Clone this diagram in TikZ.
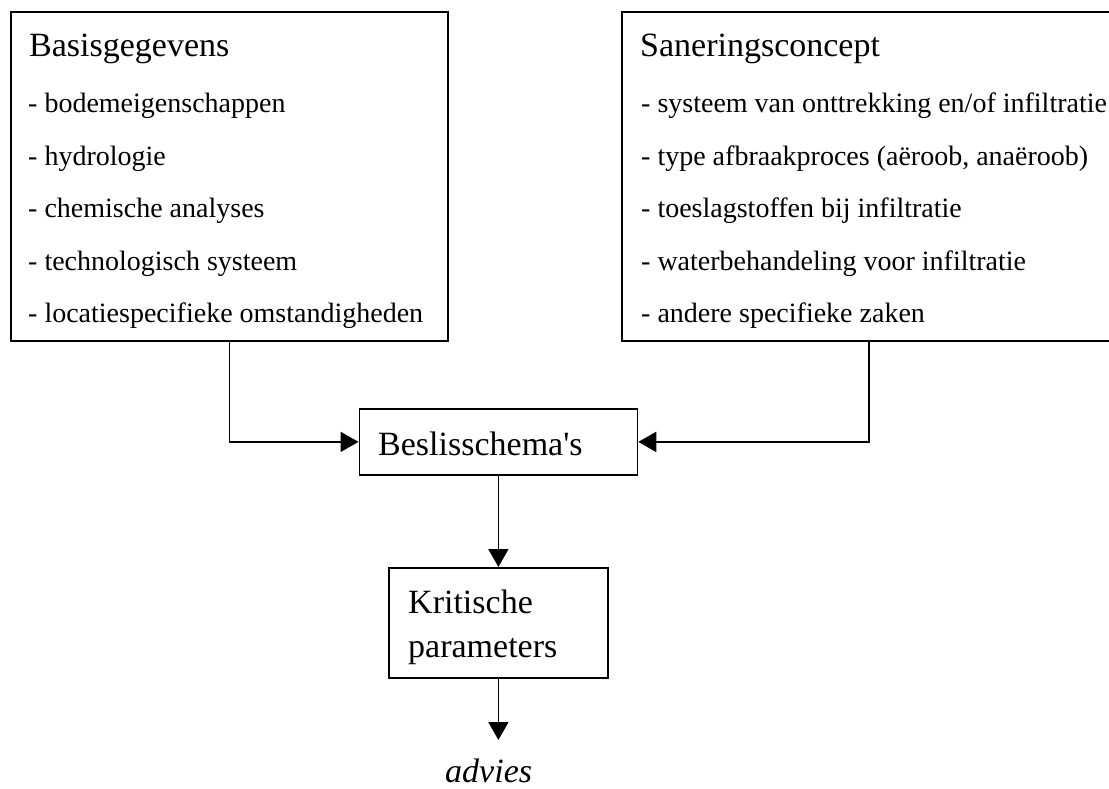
\documentclass[tikz,border=0pt]{standalone}
\usepackage{fontspec}
\setmainfont{Liberation Serif}[Ligatures=TeXOff]
\usetikzlibrary{arrows.meta}
\tikzset{
  box/.style={draw=black, line width=1.8pt, rectangle, inner sep=0pt, anchor=north west},
  ttl/.style={anchor=base west, inner sep=0pt, font=\fontsize{34}{40}\selectfont},
  itm/.style={anchor=base west, inner sep=0pt, font=\fontsize{28}{34}\selectfont},
  conn/.style={line width=1.8pt, -{Triangle[length=18pt,width=20pt]}}
}
\begin{document}
\begin{tikzpicture}[x=1pt,y=-1pt]
\useasboundingbox (0,0) rectangle (1109,789);
\clip (0,0) rectangle (1109,789);
% boxes
\node[box, minimum width=437pt, minimum height=329pt] (basis) at (10,11) {};
\node[box, minimum width=494pt, minimum height=329pt] (sanering) at (621,11) {};
\node[box, minimum width=278pt, minimum height=66pt] (besl) at (358.5,408) {};
\node[box, minimum width=219pt, minimum height=110pt] (krit) at (388,567) {};
% left box text
\node[ttl] (b0) at (29,57) {Basisgegevens};
\node[itm] (b1) at (28,113) {- bodemeigenschappen};
\node[itm] (b2) at (28,166) {- hydrologie};
\node[itm] (b3) at (28,218) {- chemische analyses};
\node[itm] (b4) at (28,270) {- technologisch systeem};
\node[itm] (b5) at (28,322) {- locatiespecifieke omstandigheden};
% right box text
\node[ttl] (s0) at (640,57) {Saneringsconcept};
\node[itm] (s1) at (641,113) {- systeem van onttrekking en/of infiltratie};
\node[itm] (s2) at (641,166) {- type afbraakproces (aëroob, anaëroob)};
\node[itm] (s3) at (641,218) {- toeslagstoffen bij infiltratie};
\node[itm] (s4) at (641,270) {- waterbehandeling voor infiltratie};
\node[itm] (s5) at (641,322) {- andere specifieke zaken};
% middle texts
\node[ttl] (bt) at (378,455) {Beslisschema's};
\node[ttl] (k1) at (408,613) {Kritische};
\node[ttl] (k2) at (408,657) {parameters};
\node[ttl, font=\fontsize{34}{40}\selectfont\itshape] (advies) at (445,782) {advies};
\coordinate (advtip) at (497.5,740);
% connectors
\draw[conn] (basis.south) |- (besl.west);
\draw[conn] (sanering.south) |- (besl.east);
\draw[conn] (besl.south) -- (krit.north);
\draw[conn] (krit.south) -- (krit.south |- advtip);
\end{tikzpicture}
\end{document}
